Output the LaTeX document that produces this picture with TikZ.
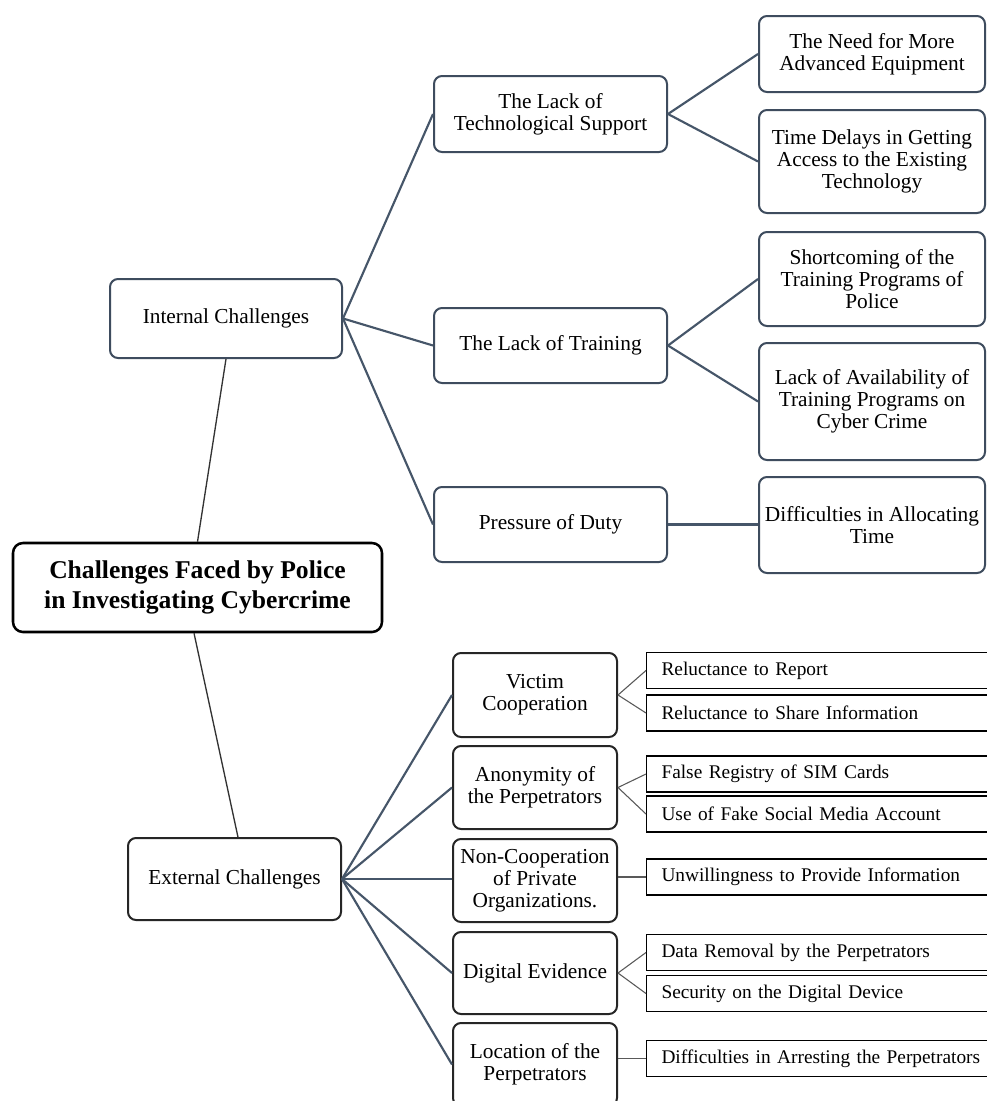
\documentclass[tikz,border=0pt]{standalone}
\usepackage{fontspec}
\setmainfont{Liberation Serif}
\definecolor{slate}{HTML}{3E4C5E}
\definecolor{conncol}{HTML}{465669}
\tikzset{
 rbox/.style={draw=slate,line width=1.5pt,rounded corners=6pt,align=center,inner sep=0pt,fill=white,font=\fontsize{16}{16.5}\selectfont},
 dbox/.style={rbox,draw=black!85},
 midw/.style={minimum width=174.75pt},
 rightw/.style={minimum width=169.5pt},
 lowerw/.style={minimum width=123pt},
 sbox/.style={draw=black,line width=0.8pt,anchor=west,inner ysep=0pt,inner xsep=11.25pt,text width=247.5pt,align=left,fill=white,font=\fontsize{14.5}{17}\selectfont,minimum height=27pt},
 rootbox/.style={draw=black,line width=1.9pt,rounded corners=7.5pt,align=center,fill=white,font=\fontsize{19.2}{22.5}\selectfont\bfseries,inner sep=0pt},
 connln/.style={draw=conncol,line width=1.6pt},
 subln/.style={draw=black!65,line width=0.8pt},
 trunk/.style={draw=black!80,line width=1pt}}
\begin{document}
\begin{tikzpicture}[x=0.75pt,y=-0.75pt]
\clip (0,0) rectangle (987,1101);
\fill[white] (0,0) rectangle (987,1101);
% root and first level
\node[rootbox,minimum width=276.75pt,minimum height=66.75pt] (root) at (197.5,587.5) {Challenges Faced by Police\\in Investigating Cybercrime};
\node[rbox,minimum width=174pt,minimum height=59.25pt] (int) at (226,318.5) {Internal Challenges};
\node[dbox,minimum width=159.75pt,minimum height=61.5pt] (ext) at (234.5,879) {External Challenges};
% internal branch
\node[rbox,midw,minimum height=57pt] (tech) at (550.5,114) {The Lack of\\Technological Support};
\node[rbox,midw,minimum height=56.25pt] (train) at (550.5,345.5) {The Lack of Training};
\node[rbox,midw,minimum height=56.25pt] (press) at (550.5,524.5) {Pressure of Duty};
\node[rbox,rightw,minimum height=57pt] (need) at (872,54) {The Need for More\\Advanced Equipment};
\node[rbox,rightw,minimum height=77.25pt] (delay) at (872,161.5) {Time Delays in Getting\\Access to the Existing\\Technology};
\node[rbox,rightw,minimum height=70.5pt] (short) at (872,279) {Shortcoming of the\\Training Programs of\\Police};
\node[rbox,rightw,minimum height=87.75pt] (avail) at (872,401.5) {Lack of Availability of\\Training Programs on\\Cyber Crime};
\node[rbox,rightw,minimum height=72pt] (alloc) at (872,525) {Difficulties in Allocating\\Time};
% external branch
\node[dbox,lowerw,minimum height=63pt] (vict) at (535,695) {Victim\\Cooperation};
\node[dbox,lowerw,minimum height=62.25pt] (anon) at (535,787.5) {Anonymity of\\the Perpetrators};
\node[dbox,lowerw,minimum height=62.25pt] (nonc) at (535,880.5) {Non-Cooperation\\of Private\\Organizations.};
\node[dbox,lowerw,minimum height=61.5pt] (dig) at (535,973) {Digital Evidence};
\node[dbox,lowerw,minimum height=62.25pt] (loc) at (535,1064.5) {Location of the\\Perpetrators};
\node[sbox] (rep) at (646,670.5) {Reluctance to Report};
\node[sbox] (shr) at (646,713) {Reluctance to Share Information};
\node[sbox] (sim) at (646,774) {False Registry of SIM Cards};
\node[sbox] (fake) at (646,814) {Use of Fake Social Media Account};
\node[sbox] (unw) at (646,877) {Unwillingness to Provide Information};
\node[sbox] (rem) at (646,952.5) {Data Removal by the Perpetrators};
\node[sbox] (sec) at (646,993.5) {Security on the Digital Device};
\node[sbox] (arr) at (646,1058.5) {Difficulties in Arresting the Perpetrators};
% connectors
\draw[trunk] (root.north) -- (int.south);
\draw[trunk] ([xshift=-2.6pt]root.south) -- ([xshift=2.6pt]ext.north);
\draw[connln] (int.east) -- (tech.west);
\draw[connln] (int.east) -- (train.west);
\draw[connln] (int.east) -- (press.west);
\draw[connln] (tech.east) -- (need.west);
\draw[connln] (tech.east) -- (delay.west);
\draw[connln] (train.east) -- (short.west);
\draw[connln] (train.east) -- (avail.west);
\draw[connln] (press.east) -- (press.east -| alloc.west);
\draw[connln] (ext.east) -- (vict.west);
\draw[connln] (ext.east) -- (anon.west);
\draw[connln] (ext.east) -- (ext.east -| nonc.west);
\draw[connln] (ext.east) -- (dig.west);
\draw[connln] (ext.east) -- (loc.west);
\draw[subln] (vict.east) -- (rep.west);
\draw[subln] (vict.east) -- (shr.west);
\draw[subln] (anon.east) -- (sim.west);
\draw[subln] (anon.east) -- (fake.west);
\draw[subln] (nonc.east |- unw.west) -- (unw.west);
\draw[subln] (dig.east) -- (rem.west);
\draw[subln] (dig.east) -- (sec.west);
\draw[subln] (loc.east |- arr.west) -- (arr.west);
\end{tikzpicture}
\end{document}
